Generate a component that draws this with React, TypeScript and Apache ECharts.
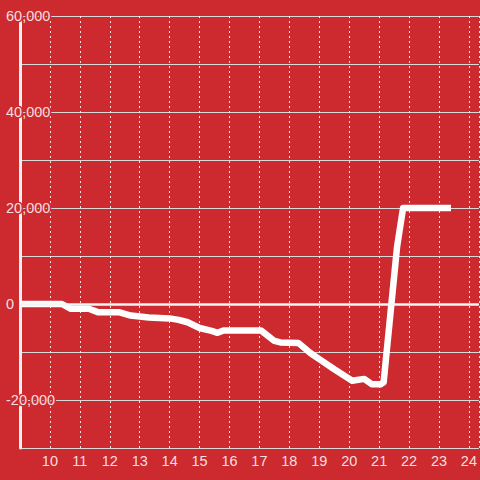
import React, { useEffect, useRef } from "react";
import * as echarts from "echarts";

const xValues = [9, 10.4, 10.7, 11.3, 11.6, 12.3, 12.7, 13.3, 14.0, 14.3, 14.6, 15.0, 15.4, 15.6, 15.8, 16.3, 17.05, 17.5, 17.7, 18.3, 18.7, 19.0, 19.5, 20.1, 20.5, 20.75, 21.05, 21.15, 21.6, 21.8, 23.4];
const yValues = [0, 0, -1000, -1000, -1700, -1700, -2400, -2800, -3000, -3300, -3800, -5000, -5600, -6000, -5500, -5500, -5500, -7700, -8000, -8100, -10200, -11500, -13600, -16000, -15600, -16700, -16700, -16300, 12000, 20000, 20000];

const BG = "#cc2a2f";
const LABEL = "rgba(255,255,255,0.86)";
const FONT = "'Liberation Sans', Arial, sans-serif";

export default function App() {
  const ref = useRef<HTMLDivElement>(null);
  useEffect(() => {
    if (!ref.current) return;
    const chart = echarts.init(ref.current, undefined, { renderer: "svg" });
    const data = xValues.map((x, i) => [x, yValues[i]]);
    chart.setOption({
      animation: false,
      backgroundColor: BG,
      textStyle: { fontFamily: FONT },
      grid: { left: 20, right: 0, top: 16, bottom: 32, containLabel: false },
      xAxis: {
        type: "value",
        min: 9,
        max: 24 + 1 / 3,
        interval: 1,
        axisLine: { show: false },
        axisTick: { show: false },
        axisLabel: {
          color: LABEL,
          fontSize: 14.5,
          fontFamily: FONT,
          margin: 5,
          showMinLabel: false,
          showMaxLabel: false,
          formatter: (v: number) => (Number.isInteger(v) && v > 9 ? String(v) : ""),
        },
        splitLine: { show: true, lineStyle: { color: "rgba(255,255,255,0.85)", width: 1, type: [2, 3] } },
      },
      yAxis: [
        {
          type: "value",
          min: -30000,
          max: 60000,
          interval: 10000,
          z: 0,
          axisLine: { show: true, onZero: false, lineStyle: { color: "#f0f0f0", width: 3 } },
          axisTick: { show: false },
          axisLabel: { show: false },
          splitLine: { show: true, lineStyle: { color: "#d8d8d8", width: 1 } },
        },
        {
          type: "value",
          min: -30000,
          max: 60000,
          interval: 10000,
          position: "left",
          z: 1,
          axisLine: { show: false },
          axisTick: { show: false },
          splitLine: { show: false },
          axisLabel: {
            color: LABEL,
            fontSize: 14.5,
            fontFamily: FONT,
            align: "left",
            margin: 14,
            textBorderColor: BG,
            textBorderWidth: 3,
            formatter: (v: number) => (v % 20000 === 0 ? v.toLocaleString("en-US") : ""),
          },
        },
      ],
      series: [
        {
          type: "line",
          data,
          yAxisIndex: 0,
          symbol: "none",
          lineStyle: { color: "#ffffff", width: 6.5, join: "round" },
          markLine: {
            silent: true,
            symbol: "none",
            label: { show: false },
            lineStyle: { color: "#f5f5f5", width: 2.5, type: "solid" },
            data: [{ yAxis: 0 }],
          },
        },
      ],
    });
    return () => chart.dispose();
  }, []);
  return <div ref={ref} style={{ width: 480, height: 480, position: "absolute", left: 0, top: 0 }} />;
}
